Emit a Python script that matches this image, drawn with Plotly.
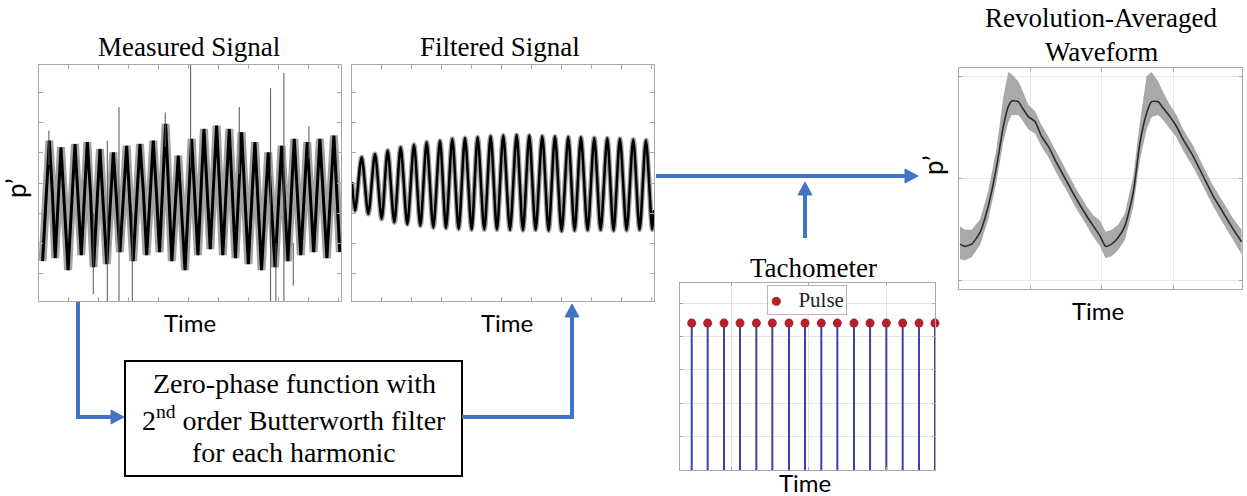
import plotly.graph_objects as go

W, H = 1247, 496

# ---------------- data ----------------
# Measured signal: trough / peak vertices of each cycle
meas_trough_t = [0.12, 0.54, 0.97, 1.41, 1.82, 2.26, 2.70, 3.14, 3.59, 4.02, 4.43, 4.87,
                 5.30, 5.71, 6.13, 6.55, 6.98, 7.42, 7.87, 8.30, 8.73, 9.16, 9.60, 10.03]
meas_trough_v = [-2.6, -2.5, -2.9, -2.4, -2.8, -2.7, -2.3, -2.6, -2.4, -2.3, -2.6, -2.9,
                 -2.4, -2.2, -2.4, -2.5, -2.7, -2.9, -2.8, -2.6, -2.4, -2.3, -2.5, -2.3]
meas_peak_t = [0.344, 0.733, 1.20, 1.611, 2.033, 2.478, 2.922, 3.367, 3.811, 4.222, 4.644, 5.089,
               5.50, 5.922, 6.344, 6.756, 7.20, 7.644, 8.089, 8.511, 8.944, 9.367, 9.833]
meas_peak_v = [1.41, 1.19, 1.30, 1.36, 1.13, 1.02, 1.24, 1.30, 1.41, 1.97, 0.91, 1.47,
               1.80, 1.91, 1.80, 1.69, 1.36, 1.02, 1.24, 1.47, 1.36, 1.47, 1.58]
# shoulder on the falling side of each cycle
meas_shoulder_t = [0.45, 0.84, 1.31, 1.72, 2.14, 2.59, 3.03, 3.48, 3.92, 4.33, 4.75, 5.20,
                   5.61, 6.03, 6.45, 6.87, 7.31, 7.75, 8.20, 8.62, 9.05, 9.48, 9.94]
meas_shoulder_v = [-0.4, -0.6, -0.5, -0.4, -0.7, -0.6, -0.5, -0.3, -0.4, -0.2, -0.8, -0.5,
                   -0.3, -0.2, -0.3, -0.4, -0.6, -0.8, -0.6, -0.4, -0.5, -0.4, -0.3]
# isolated spikes in the measured record: time, top, bottom
spike_t = [0.33, 1.81, 2.278, 2.667, 3.111, 4.21, 5.056, 6.678, 7.722, 7.90, 8.167, 8.478, 9.0]
spike_hi = [1.75, -1.0, 1.41, 2.53, -1.0, 2.35, 3.93, 2.53, 3.16, -2.0, 3.66, -2.0, 1.9]
spike_lo = [0.6, -3.7, -3.93, -3.93, -3.93, 1.2, 0.5, 0.3, -3.93, -3.93, -3.93, -3.42, 0.8]

# Filtered signal
filt_start = (0.0, 0.03)
filt_trough_t = [0.10, 0.544, 0.989, 1.411, 1.844, 2.278, 2.711, 3.133, 3.556, 3.989, 4.411, 4.833,
                 5.267, 5.70, 6.122, 6.556, 6.989, 7.422, 7.856, 8.289, 8.722, 9.156, 9.589, 10.011]
filt_trough_v = [-0.92, -1.03, -1.20, -1.31, -1.37, -1.42, -1.48, -1.50, -1.53, -1.55, -1.55, -1.55,
                 -1.56, -1.57, -1.56, -1.58, -1.60, -1.58, -1.57, -1.56, -1.58, -1.57, -1.56, -1.55]
filt_peak_t = [0.322, 0.767, 1.189, 1.622, 2.067, 2.489, 2.933, 3.344, 3.767, 4.189, 4.622, 5.044,
               5.489, 5.911, 6.344, 6.767, 7.211, 7.633, 8.078, 8.511, 8.933, 9.378, 9.80]
filt_peak_v = [0.86, 0.97, 1.08, 1.19, 1.27, 1.36, 1.41, 1.47, 1.50, 1.52, 1.56, 1.58,
               1.60, 1.58, 1.56, 1.55, 1.53, 1.52, 1.50, 1.49, 1.47, 1.45, 1.42]
filt_end = (10.07, -0.9)

# Tachometer pulses
pulse_t = [0.151, 0.357, 0.568, 0.774, 0.985, 1.191, 1.406, 1.613, 1.823, 2.03, 2.245,
           2.452, 2.662, 2.873, 3.084, 3.29]
pulse_v = [4.4] * 16

# Revolution-averaged waveform: mean and spread envelope
rev_t = [0.014, 0.084, 0.177, 0.294, 0.410, 0.527, 0.620, 0.690, 0.737, 0.830, 0.876, 0.970,
         1.063, 1.156, 1.250, 1.366, 1.506, 1.646, 1.786, 1.879, 1.972, 2.051, 2.135, 2.228,
         2.322, 2.438, 2.531, 2.625, 2.695, 2.788, 2.858, 2.951, 3.044, 3.138, 3.277, 3.417,
         3.557, 3.697, 3.836, 3.954]
rev_mean = [-0.641, -0.663, -0.641, -0.527, -0.269, 0.120, 0.508, 0.702, 0.757, 0.751, 0.702, 0.605,
            0.557, 0.411, 0.314, 0.152, -0.026, -0.204, -0.366, -0.463, -0.560, -0.663, -0.641, -0.576,
            -0.463, -0.139, 0.346, 0.638, 0.751, 0.751, 0.686, 0.605, 0.508, 0.379, 0.217, 0.022,
            -0.172, -0.333, -0.495, -0.618]
rev_upper = [-0.47, -0.50, -0.50, -0.40, -0.12, 0.30, 0.80, 1.04, 1.02, 0.95, 0.88, 0.72,
             0.66, 0.52, 0.41, 0.25, 0.07, -0.11, -0.27, -0.36, -0.41, -0.52, -0.50, -0.45,
             -0.34, 0.02, 0.55, 1.00, 1.04, 0.95, 0.84, 0.72, 0.62, 0.48, 0.32, 0.12,
             -0.07, -0.23, -0.39, -0.50]
rev_lower = [-0.79, -0.80, -0.77, -0.65, -0.40, -0.02, 0.36, 0.55, 0.62, 0.62, 0.58, 0.48,
             0.44, 0.31, 0.21, 0.05, -0.12, -0.30, -0.46, -0.57, -0.66, -0.78, -0.76, -0.70,
             -0.60, -0.28, 0.18, 0.48, 0.60, 0.62, 0.57, 0.49, 0.40, 0.27, 0.11, -0.08,
             -0.27, -0.44, -0.61, -0.74]

# ---------------- helpers ----------------
def fx(x):
    return x / W


def fy(y):
    return 1 - y / H


def merge(*series):
    pts = sorted(p for t, v in series for p in zip(t, v))
    return [p[0] for p in pts], [p[1] for p in pts]


BLUE = "#4472C4"
SERIF = "Liberation Serif"
SANS = "Lato"
FRAME = "#a8a8a8"

fig = go.Figure()

# Measured signal: soft grey halo under a dark stroke
mt, mv = merge((meas_trough_t, meas_trough_v), (meas_peak_t, meas_peak_v),
               (meas_shoulder_t, meas_shoulder_v))
fig.add_trace(go.Scatter(x=mt, y=mv, mode="lines", line=dict(color="rgba(70,70,70,0.5)", width=8),
                         xaxis="x", yaxis="y", showlegend=False))
fig.add_trace(go.Scatter(x=mt, y=mv, mode="lines", line=dict(color="black", width=3),
                         xaxis="x", yaxis="y", showlegend=False))
sx, sy = [], []
for t, hi, lo in zip(spike_t, spike_hi, spike_lo):
    sx += [t, t, None]
    sy += [lo, hi, None]
fig.add_trace(go.Scatter(x=sx, y=sy, mode="lines", line=dict(color="#555555", width=1),
                         xaxis="x", yaxis="y", showlegend=False))

# Filtered signal
ft, fv = merge((filt_trough_t, filt_trough_v), (filt_peak_t, filt_peak_v))
ft = [filt_start[0]] + ft + [filt_end[0]]
fv = [filt_start[1]] + fv + [filt_end[1]]
fig.add_trace(go.Scatter(x=ft, y=fv, mode="lines",
                         line=dict(color="rgba(40,40,40,0.45)", width=5, shape="spline", smoothing=0.8),
                         xaxis="x2", yaxis="y2", showlegend=False))
fig.add_trace(go.Scatter(x=ft, y=fv, mode="lines",
                         line=dict(color="black", width=2.5, shape="spline", smoothing=0.8),
                         xaxis="x2", yaxis="y2", showlegend=False))

# Tachometer stems and pulse markers
stx, sty = [], []
for t, v in zip(pulse_t, pulse_v):
    stx += [t, t, None]
    sty += [0, v, None]
fig.add_trace(go.Scatter(x=stx, y=sty, mode="lines", line=dict(color="#3d3db0", width=2),
                         xaxis="x3", yaxis="y3", showlegend=False, cliponaxis=False))
fig.add_trace(go.Scatter(x=pulse_t, y=pulse_v, mode="markers", name="Pulse",
                         marker=dict(color="#b2222a", size=9),
                         xaxis="x3", yaxis="y3", showlegend=False, cliponaxis=False))

# Revolution-averaged waveform
fig.add_trace(go.Scatter(x=rev_t, y=rev_lower, mode="lines", line=dict(width=0, color="#a9a9a9"),
                         xaxis="x4", yaxis="y4", showlegend=False))
fig.add_trace(go.Scatter(x=rev_t, y=rev_upper, mode="lines", line=dict(width=0, color="#a9a9a9"),
                         fill="tonexty", fillcolor="#a9a9a9",
                         xaxis="x4", yaxis="y4", showlegend=False))
fig.add_trace(go.Scatter(x=rev_t, y=rev_mean, mode="lines",
                         line=dict(color="#2b2b2b", width=1.6, shape="spline", smoothing=0.6),
                         xaxis="x4", yaxis="y4", showlegend=False))


def frame_axis(domain, rng, **kw):
    d = dict(domain=domain, range=rng, showline=True, mirror="ticks", linecolor=FRAME,
             linewidth=1, ticks="inside", ticklen=4, tickcolor=FRAME, showticklabels=False,
             showgrid=False, zeroline=False, fixedrange=True)
    d.update(kw)
    return d


ydom12 = [fy(301), fy(65)]
fig.update_layout(
    width=W, height=H, margin=dict(l=0, r=0, t=0, b=0),
    paper_bgcolor="white", plot_bgcolor="white", showlegend=False,
    xaxis=frame_axis([fx(39), fx(341)], [0, 10.07], tick0=0, dtick=1),
    yaxis=frame_axis(ydom12, [-3.93, 3.93], tick0=0, dtick=1, anchor="x"),
    xaxis2=frame_axis([fx(352), fx(654)], [0, 10.07], tick0=0, dtick=1, anchor="y2"),
    yaxis2=frame_axis(ydom12, [-3.93, 3.93], tick0=0, dtick=1, anchor="x2"),
    xaxis3=frame_axis([fx(680), fx(935)], [0, 3.29], tick0=0.66, dtick=1, anchor="y3",
                      showgrid=True, gridcolor="#e3e3e3", ticklen=3),
    yaxis3=frame_axis([fy(470), fy(283)], [0, 5.6], tick0=0, dtick=1, anchor="x3",
                      showgrid=True, gridcolor="#e3e3e3", ticklen=3),
    xaxis4=frame_axis([fx(959), fx(1242)], [0, 3.96], tick0=1, dtick=1, anchor="y4",
                      showgrid=True, gridcolor="#e6e6e6", ticklen=3),
    yaxis4=frame_axis([fy(289), fy(68)], [-1.08, 1.08], tick0=0, dtick=1, anchor="x4",
                      showgrid=True, gridcolor="#e6e6e6", ticklen=3),
)

# ---------------- text ----------------
ann = []


def text(x, y, s, font, size, angle=0, color="black", **kw):
    a = dict(x=fx(x), y=fy(y), xref="paper", yref="paper", text=s, showarrow=False,
             xanchor="center", yanchor="middle", textangle=angle,
             font=dict(family=font, size=size, color=color))
    a.update(kw)
    ann.append(a)


text(189, 47, "Measured Signal", SERIF, 27)
text(500, 47, "Filtered Signal", SERIF, 27)
text(1101, 18, "Revolution-Averaged", SERIF, 27)
text(1101, 52, "Waveform", SERIF, 27)
text(813, 268, "Tachometer", SERIF, 27)
text(190, 322, "Time", SANS, 24)
text(507, 322, "Time", SANS, 24)
text(1098, 310, "Time", SANS, 24)
text(805, 482, "Time", SANS, 24)
text(16, 188, "p\u2019", SANS, 26, angle=-90)
text(933, 165, "p\u2019", SANS, 26, angle=-90)
text(294, 383, "Zero-phase function with", SERIF, 28)
text(294, 418, "2<sup>nd</sup> order Butterworth filter", SERIF, 28)
text(294, 452, "for each harmonic", SERIF, 28)
# pulse legend
text(807, 300, '<span style="color:#b2222a">\u25cf</span>   Pulse', SERIF, 21,
     bgcolor="white", bordercolor="#b5b5b5", borderwidth=1, borderpad=2, color="#222")

fig.update_layout(annotations=ann)

# ---------------- flow box and arrows ----------------
shapes = [dict(type="rect", xref="paper", yref="paper", x0=fx(125), x1=fx(462),
               y0=fy(476), y1=fy(361), line=dict(color="black", width=2), fillcolor="rgba(0,0,0,0)")]


def poly(points, width=4):
    d = "M " + " L ".join(f"{fx(x)},{fy(y)}" for x, y in points)
    shapes.append(dict(type="path", xref="paper", yref="paper", path=d,
                       line=dict(color=BLUE, width=width)))


def head(tip, direction, length=13, half=7):
    x, y = tip
    if direction == "right":
        pts = [(x, y), (x - length, y - half), (x - length, y + half)]
    else:  # up
        pts = [(x, y), (x - half, y + length), (x + half, y + length)]
    d = "M " + " L ".join(f"{fx(a)},{fy(b)}" for a, b in pts) + " Z"
    shapes.append(dict(type="path", xref="paper", yref="paper", path=d,
                       line=dict(color=BLUE, width=1), fillcolor=BLUE))


poly([(78, 302), (78, 417), (112, 417)])
head((124, 417), "right")
poly([(462, 417), (572, 417), (572, 316)])
head((572, 304), "up")
poly([(656, 176), (906, 176)])
head((918, 176), "right")
poly([(805, 238), (805, 194)])
head((805, 182), "up")

fig.update_layout(shapes=shapes)

fig.write_html("out.html")
